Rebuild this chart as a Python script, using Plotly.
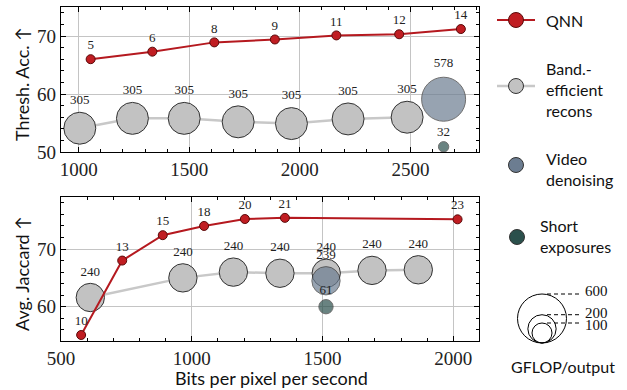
import plotly.graph_objects as go
import math

# ---------------- data ----------------
# Top panel: Thresh. Acc.
qnn_top_x = [1054, 1333, 1613, 1887, 2165, 2449, 2728]
qnn_top_y = [66.0, 67.3, 68.9, 69.4, 70.1, 70.3, 71.2]
qnn_top_lbl = [5, 6, 8, 9, 11, 12, 14]

band_top_x = [1005, 1243, 1477, 1721, 1962, 2218, 2485]
band_top_y = [54.1, 55.8, 55.8, 55.2, 54.9, 55.7, 56.0]
band_top_lbl = [305, 305, 305, 305, 305, 305, 305]

video_top_x = [2650]
video_top_y = [59.1]
video_top_lbl = [578]

short_top_x = [2650]
short_top_y = [50.9]
short_top_lbl = [32]

# Bottom panel: Avg. Jaccard
qnn_bot_x = [577, 734, 889, 1047, 1203, 1356, 2016]
qnn_bot_y = [55.1, 68.0, 72.4, 74.0, 75.2, 75.4, 75.15]
qnn_bot_lbl = [10, 13, 15, 18, 20, 21, 23]

band_bot_x = [612, 966, 1159, 1337, 1514, 1689, 1866]
band_bot_y = [61.6, 65.0, 66.0, 65.8, 65.8, 66.3, 66.4]
band_bot_lbl = [240, 240, 240, 240, 240, 240, 240]

video_bot_x = [1513]
video_bot_y = [64.5]
video_bot_lbl = [239]

short_bot_x = [1513]
short_bot_y = [60.0]
short_bot_lbl = [61]

top_xticks = [1000, 1500, 2000, 2500]
top_yticks = [50, 60, 70]
bot_xticks = [500, 1000, 1500, 2000]
bot_yticks = [60, 70]

size_legend_vals = [600, 200, 100]

# ---------------- style ----------------
W, H = 627, 390
L, R, T, B = 61, 479, 7, 341
RED = "#c01d22"
RED_LINE = "#b5191f"
GRAY = "#c2c2c2"
GRAY_LINE = "#c8c8c8"
VIDEO = "#6c7d91"
SHORT = "#2b504c"
EDGE = "#333333"
SERIF = "Liberation Serif, DejaVu Serif, serif"
SANS = "Lato"
K = 1.83  # bubble diameter scale (plot)
KL = 2.0  # bubble diameter scale (size legend)


def sz(vals):
    return [K * math.sqrt(v) for v in vals]


def px2x(px):
    return (px - L) / (R - L)


def py2y(py):
    return (B - py) / (B - T)


fig = go.Figure()

lbl_font = dict(family=SERIF, size=13, color="#222")


def add_panel(xa, ya, bx, by, bl, vx, vy, vl, sx, sy, sl, qx, qy, ql):
    fig.add_trace(go.Scatter(x=bx, y=by, mode="lines+markers+text", xaxis=xa, yaxis=ya,
                             line=dict(color=GRAY_LINE, width=2.5),
                             marker=dict(size=sz(bl), color=GRAY, line=dict(color=EDGE, width=1), opacity=1),
                             text=[str(v) for v in bl], textposition="top center",
                             textfont=lbl_font, showlegend=False, cliponaxis=False))
    fig.add_trace(go.Scatter(x=vx, y=vy, mode="markers+text", xaxis=xa, yaxis=ya,
                             marker=dict(size=sz(vl), color=VIDEO, line=dict(color=EDGE, width=1)),
                             text=[str(v) for v in vl], textposition="top center",
                             textfont=lbl_font, showlegend=False, cliponaxis=False))
    fig.add_trace(go.Scatter(x=sx, y=sy, mode="markers+text", xaxis=xa, yaxis=ya,
                             marker=dict(size=sz(sl), color=SHORT, line=dict(color=EDGE, width=1)),
                             text=[str(v) for v in sl], textposition="top center",
                             textfont=lbl_font, showlegend=False, cliponaxis=False))
    fig.add_trace(go.Scatter(x=qx, y=qy, mode="lines+markers+text", xaxis=xa, yaxis=ya,
                             line=dict(color=RED_LINE, width=2),
                             marker=dict(size=9, color=RED, line=dict(color="#5a0a0a", width=1)),
                             text=[str(v) for v in ql], textposition="top center",
                             textfont=lbl_font, showlegend=False, cliponaxis=False))


add_panel("x", "y", band_top_x, band_top_y, band_top_lbl, video_top_x, video_top_y, video_top_lbl,
          short_top_x, short_top_y, short_top_lbl, qnn_top_x, qnn_top_y, qnn_top_lbl)
add_panel("x2", "y2", band_bot_x, band_bot_y, band_bot_lbl, video_bot_x, video_bot_y, video_bot_lbl,
          short_bot_x, short_bot_y, short_bot_lbl, qnn_bot_x, qnn_bot_y, qnn_bot_lbl)

axis_common = dict(showline=True, linecolor="black", linewidth=1.3, mirror="allticks",
                   ticks="inside", ticklen=5, tickcolor="black", tickwidth=1,
                   showgrid=True, gridcolor="#c4c4c4", gridwidth=1, zeroline=False,
                   tickfont=dict(family=SERIF, size=19, color="#222"))

top_dom = [py2y(152), 1]
bot_dom = [0, py2y(196.7)]

fig.update_layout(
    width=W, height=H,
    margin=dict(l=L, r=W - R, t=T, b=H - B, pad=0),
    paper_bgcolor="white", plot_bgcolor="white",
    showlegend=False,
    xaxis=dict(axis_common, domain=[0, 1], anchor="y", range=[920, 2810], tickvals=top_xticks,
               minor=dict(ticks="inside", dtick=100, tick0=0, ticklen=3, tickcolor="black", showgrid=False)),
    yaxis=dict(axis_common, domain=top_dom, anchor="x", range=[50, 75], tickvals=top_yticks,
               minor=dict(ticks="inside", dtick=2, tick0=0, ticklen=3, tickcolor="black", showgrid=False)),
    xaxis2=dict(axis_common, domain=[0, 1], anchor="y2", range=[500, 2098], tickvals=bot_xticks,
                minor=dict(ticks="inside", dtick=100, tick0=0, ticklen=3, tickcolor="black", showgrid=False)),
    yaxis2=dict(axis_common, domain=bot_dom, anchor="x2", range=[54.06, 79.07], tickvals=bot_yticks,
                minor=dict(ticks="inside", dtick=2, tick0=0, ticklen=3, tickcolor="black", showgrid=False)),
)

ann = []
shapes = []


def text(px, py, s, size=17, family=SANS, xanchor="center", angle=0, color="#111"):
    ann.append(dict(x=px2x(px), y=py2y(py), xref="paper", yref="paper", text=s, showarrow=False,
                    xanchor=xanchor, yanchor="middle", textangle=angle,
                    font=dict(family=family, size=size, color=color), align="left"))


def circle(cx, cy, d, fill, line="#333", lw=1):
    shapes.append(dict(type="circle", xref="paper", yref="paper",
                       x0=px2x(cx - d / 2), x1=px2x(cx + d / 2), y0=py2y(cy + d / 2), y1=py2y(cy - d / 2),
                       fillcolor=fill, line=dict(color=line, width=lw)))


def hline(x0, x1, y, color, width, dash="solid"):
    shapes.append(dict(type="line", xref="paper", yref="paper", x0=px2x(x0), x1=px2x(x1),
                       y0=py2y(y), y1=py2y(y), line=dict(color=color, width=width, dash=dash)))


# axis titles
text(22, 84, "Thresh. Acc. ↑", size=18, angle=-90)
text(22, 274, "Avg. Jaccard ↑", size=18, angle=-90)
text(271, 378, "Bits per pixel per second", size=18)

# legend
hline(497, 535, 20, RED_LINE, 2)
circle(516, 20, 15, RED, "#5a0a0a")
text(544, 20, "QNN", size=16, xanchor="left")

hline(497, 535, 86, GRAY_LINE, 2.5)
circle(516, 86, 15, GRAY)
text(544, 89, "Band.-<br>efficient<br>recons", size=16, xanchor="left")

circle(516, 165, 15, VIDEO)
text(544, 169, "Video<br>denoising", size=16, xanchor="left")

circle(517, 237, 15, SHORT)
text(538, 236, "Short<br>exposures", size=16, xanchor="left")

# bubble size legend
bottom = 343
for v, ly in zip(size_legend_vals, [290.5, 312.5, 325]):
    d = KL * math.sqrt(v)
    circle(542, bottom - d / 2, d, "rgba(0,0,0,0)", "black", 1)
    hline(547, 581, bottom - d, "black", 1, "4px,3px")
    text(583, ly, str(v), size=15, family=SERIF, xanchor="left")
text(563, 366, "GFLOP/output", size=16)

fig.update_layout(annotations=ann, shapes=shapes)
fig.write_html("out.html", config={"displayModeBar": False},
               post_script="document.body.style.margin='0';document.body.style.overflow='hidden';")
